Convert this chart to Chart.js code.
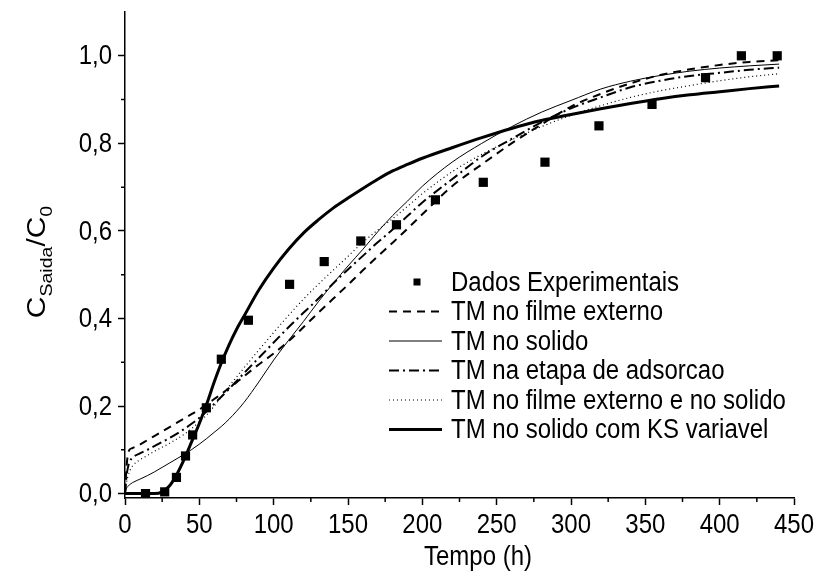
<!DOCTYPE html>
<html>
<head>
<meta charset="utf-8">
<script src="https://cdn.jsdelivr.net/npm/chart.js@4/dist/chart.umd.min.js"></script>
<style>
  body { margin: 0; background: #fff; }
  canvas { display: block; }
</style>
</head>
<body>
<canvas id="grafico" width="817" height="574"></canvas>
<script>
// Dados experimentais (pontos)
const tempoExp = [13.8, 26.7, 34.6, 40.7, 45.5, 54.7, 64.8, 83, 110.7, 134, 158.6, 182.6, 208.8, 241, 282.5, 318.8, 354.5, 390.5, 414.6, 438.7];
const concExp = [0.0, 0.004, 0.037, 0.086, 0.134, 0.196, 0.307, 0.396, 0.478, 0.53, 0.577, 0.614, 0.671, 0.711, 0.757, 0.84, 0.889, 0.95, 1.0, 1.0];

// Tempos dos modelos
const tempoModelo = [0, 1, 2, 3, 5, 10, 15, 20, 25, 30, 35, 40, 45, 50, 55, 60, 65, 70, 75, 80, 90, 100, 110, 120, 130, 140, 150, 160, 170, 180, 190, 200, 220, 240, 260, 280, 300, 320, 340, 360, 380, 400, 420, 440];

// Modelos
const filmeExterno = [0, 0.06, 0.09, 0.1, 0.104, 0.112, 0.122, 0.132, 0.142, 0.152, 0.162, 0.172, 0.182, 0.192, 0.204, 0.216, 0.228, 0.241, 0.254, 0.268, 0.295, 0.32, 0.348, 0.38, 0.413, 0.445, 0.477, 0.51, 0.542, 0.573, 0.605, 0.638, 0.702, 0.752, 0.8, 0.843, 0.884, 0.913, 0.937, 0.956, 0.969, 0.979, 0.986, 0.99];
const solido = [0, 0.012, 0.017, 0.02, 0.025, 0.033, 0.041, 0.05, 0.06, 0.07, 0.08, 0.09, 0.101, 0.113, 0.126, 0.14, 0.154, 0.17, 0.188, 0.208, 0.255, 0.305, 0.35, 0.393, 0.438, 0.48, 0.52, 0.558, 0.598, 0.635, 0.668, 0.702, 0.757, 0.8, 0.838, 0.871, 0.898, 0.924, 0.942, 0.955, 0.965, 0.972, 0.977, 0.981];
const etapaAdsorcao = [0, 0.04, 0.06, 0.072, 0.082, 0.092, 0.1, 0.109, 0.118, 0.127, 0.137, 0.148, 0.16, 0.173, 0.188, 0.205, 0.222, 0.239, 0.257, 0.275, 0.31, 0.345, 0.38, 0.413, 0.445, 0.48, 0.512, 0.543, 0.574, 0.603, 0.634, 0.665, 0.718, 0.77, 0.81, 0.848, 0.88, 0.905, 0.928, 0.943, 0.954, 0.961, 0.968, 0.973];
const filmeESolido = [0, 0.025, 0.04, 0.05, 0.063, 0.077, 0.087, 0.097, 0.106, 0.115, 0.125, 0.136, 0.149, 0.164, 0.18, 0.2, 0.222, 0.245, 0.266, 0.287, 0.328, 0.368, 0.407, 0.444, 0.478, 0.51, 0.542, 0.574, 0.602, 0.628, 0.656, 0.685, 0.735, 0.775, 0.808, 0.838, 0.864, 0.886, 0.905, 0.92, 0.932, 0.943, 0.952, 0.959];
const ksVariavel = [0, 0, 0, 0, 0, 0, 0, 0, 0.004, 0.018, 0.045, 0.08, 0.12, 0.16, 0.205, 0.255, 0.3, 0.34, 0.375, 0.405, 0.465, 0.515, 0.558, 0.595, 0.625, 0.652, 0.675, 0.697, 0.718, 0.737, 0.752, 0.766, 0.79, 0.813, 0.834, 0.852, 0.866, 0.879, 0.891, 0.902, 0.911, 0.918, 0.925, 0.931];

// Eixos
const ticksX = [0, 50, 100, 150, 200, 250, 300, 350, 400, 450];
const menoresX = [25, 75, 125, 175, 225, 275, 325, 375, 425];
const ticksY = [0, 0.2, 0.4, 0.6, 0.8, 1.0];
const menoresY = [0.1, 0.3, 0.5, 0.7, 0.9];

const fonte = "'Liberation Sans', Arial, sans-serif";
const estica = 1.15; // letras mais altas que largas

function pares(xs, ys) {
  return xs.map((x, i) => ({ x: x, y: ys[i] }));
}

function curva(nome, ys, largura, tracos) {
  return {
    label: nome,
    data: pares(tempoModelo, ys),
    showLine: true,
    borderColor: '#000',
    borderWidth: largura,
    borderDash: tracos,
    pointRadius: 0,
    cubicInterpolationMode: 'monotone',
    fill: false
  };
}

const datasets = [
  {
    label: 'Dados Experimentais',
    data: pares(tempoExp, concExp),
    pointStyle: 'rect',
    pointRadius: 6.5,
    backgroundColor: '#000',
    borderColor: '#000',
    borderWidth: 0,
    showLine: false
  },
  curva('TM no filme externo', filmeExterno, 2, [8, 6]),
  curva('TM no solido', solido, 1, []),
  curva('TM na etapa de adsorcao', etapaAdsorcao, 2, [10, 4, 2, 4]),
  curva('TM no filme externo e no solido', filmeESolido, 1.2, [1, 3]),
  curva('TM no solido com KS variavel', ksVariavel, 3, [])
];

function texto(ctx, str, x, y, tam, alinha) {
  ctx.save();
  ctx.translate(x, y);
  ctx.scale(1, estica);
  ctx.font = tam + 'px ' + fonte;
  ctx.fillStyle = '#000';
  ctx.textAlign = alinha;
  ctx.textBaseline = 'middle';
  ctx.fillText(str, 0, 0);
  ctx.restore();
}

// Ticks menores, rotulos, titulos e legenda
const extras = {
  id: 'extras',
  afterDraw(chart) {
    const ctx = chart.ctx;
    const sx = chart.scales.x;
    const sy = chart.scales.y;
    const area = chart.chartArea;
    ctx.save();

    ctx.strokeStyle = '#000';
    ctx.lineWidth = 1.5;
    ctx.beginPath();
    menoresX.forEach(v => {
      const px = sx.getPixelForValue(v);
      ctx.moveTo(px, area.bottom);
      ctx.lineTo(px, area.bottom + 4);
    });
    menoresY.forEach(v => {
      const py = sy.getPixelForValue(v);
      ctx.moveTo(area.left, py);
      ctx.lineTo(area.left - 4, py);
    });
    ctx.stroke();

    // rotulos dos eixos
    ticksX.forEach(v => texto(ctx, String(v), sx.getPixelForValue(v), area.bottom + 27, 24, 'center'));
    ticksY.forEach(v => texto(ctx, v.toFixed(1).replace('.', ','), area.left - 13, sy.getPixelForValue(v) + 1, 24, 'right'));
    texto(ctx, 'Tempo (h)', 478, 557, 24, 'center');

    // C_Saida / C_0
    const partes = [
      { t: 'C', tam: 26, desc: 0 },
      { t: 'Saida', tam: 17, desc: 7 },
      { t: '/C', tam: 26, desc: 0 },
      { t: '0', tam: 17, desc: 7 }
    ];
    let total = 0;
    partes.forEach(p => {
      ctx.font = p.tam + 'px ' + fonte;
      p.w = ctx.measureText(p.t).width;
      total += p.w;
    });
    ctx.save();
    ctx.translate(45, 262);
    ctx.rotate(-Math.PI / 2);
    ctx.scale(estica, 1);
    ctx.fillStyle = '#000';
    ctx.textBaseline = 'alphabetic';
    ctx.textAlign = 'left';
    let pos = -total / 2;
    partes.forEach(p => {
      ctx.font = p.tam + 'px ' + fonte;
      ctx.fillText(p.t, pos, p.desc);
      pos += p.w;
    });
    ctx.restore();

    // Legenda
    const y0 = 282;
    const passo = 29.5;
    chart.data.datasets.forEach((ds, i) => {
      const yy = y0 + i * passo;
      if (ds.showLine) {
        ctx.strokeStyle = '#000';
        ctx.lineWidth = ds.borderWidth;
        ctx.setLineDash(ds.borderDash);
        ctx.beginPath();
        ctx.moveTo(389, yy);
        ctx.lineTo(442, yy);
        ctx.stroke();
        ctx.setLineDash([]);
      } else {
        ctx.fillStyle = '#000';
        ctx.fillRect(417 - 3.5, yy - 3.5, 7, 7);
      }
      texto(ctx, ds.label, 451, yy + 1, 24, 'left');
    });
    ctx.restore();
  }
};

new Chart(document.getElementById('grafico'), {
  type: 'scatter',
  data: { datasets: datasets },
  options: {
    responsive: false,
    animation: false,
    layout: { padding: { top: 12, right: 23, left: 0, bottom: 0 } },
    plugins: {
      legend: { display: false },
      tooltip: { enabled: false }
    },
    scales: {
      x: {
        type: 'linear',
        min: 0,
        max: 450,
        afterBuildTicks: s => { s.ticks = ticksX.map(v => ({ value: v })); },
        afterFit: s => { s.height = 76; },
        grid: { drawOnChartArea: false, tickLength: 7, tickColor: '#000', tickWidth: 1.5 },
        border: { color: '#000', width: 1.5 },
        ticks: { display: false }
      },
      y: {
        type: 'linear',
        min: -0.01,
        max: 1.1,
        afterBuildTicks: s => { s.ticks = ticksY.map(v => ({ value: v })); },
        afterFit: s => { s.width = 125; },
        grid: { drawOnChartArea: false, tickLength: 7, tickColor: '#000', tickWidth: 1.5 },
        border: { color: '#000', width: 1.5 },
        ticks: { display: false }
      }
    }
  },
  plugins: [extras]
});
</script>
</body>
</html>
